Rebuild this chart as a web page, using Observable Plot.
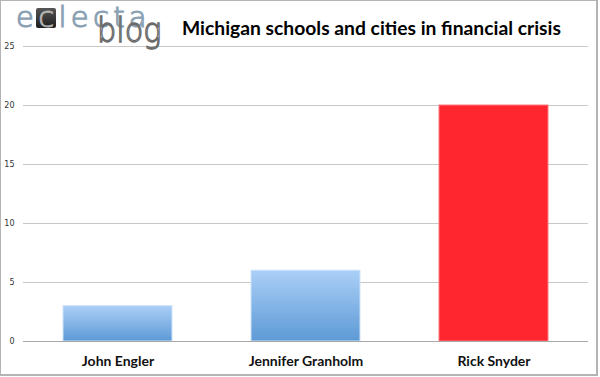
<!DOCTYPE html>
<html>
<head>
<meta charset="utf-8">
<script src="https://cdn.jsdelivr.net/npm/d3@7"></script>
<script src="https://cdn.jsdelivr.net/npm/@observablehq/plot@0.6"></script>
<style>
  html, body { margin: 0; padding: 0; background: #fff; }
  #wrap { position: relative; width: 600px; height: 377px; overflow: hidden; }
  #frame { position: absolute; left: 0; top: 0; width: 595px; height: 373px; border: 1px solid #b4b4b4; border-right-width: 2px; border-bottom-width: 2px; box-sizing: content-box; pointer-events: none; }
  #title { position: absolute; left: 182px; top: 16px; font-family: Lato, "Open Sans", sans-serif; font-weight: 700; font-size: 19.3px; color: #000; white-space: nowrap; }
  #logobox { position: absolute; left: 36px; top: 8px; width: 20px; height: 20px; background: linear-gradient(#555, #1e1e1e); border-radius: 2px; }
  #logo1 { position: absolute; left: 16px; top: 4px; font-family: "DejaVu Sans", sans-serif; font-weight: 200; font-size: 29px; line-height: 26px; color: #d4dfe8; -webkit-text-stroke: 1.2px #8aa1b4; letter-spacing: 4.3px; white-space: nowrap; }
  #logo1 .c2 { color: #e6e6e6; -webkit-text-stroke: 1px #aaa; }
  #logo2 { position: absolute; left: 97px; top: 18px; font-family: "DejaVu Sans", sans-serif; font-weight: 200; font-size: 33px; line-height: 26px; color: #fff; -webkit-text-stroke: 1.3px #6a6a6a; letter-spacing: 0px; transform-origin: left top; transform: scaleX(0.92); white-space: nowrap; }
</style>
</head>
<body>
<div id="wrap">
  <div id="chart"></div>
  <div id="logobox"></div>
  <div id="logo1">e<span class="c2">c</span>lecta</div>
  <div id="logo2">blog</div>
  <div id="title">Michigan schools and cities in financial crisis</div>
  <div id="frame"></div>
</div>
<script>
const governors = ["John Engler", "Jennifer Granholm", "Rick Snyder"];
const crisisCounts = [3, 6, 20];
const yTicks = [0, 5, 10, 15, 20, 25];

const data = governors.map((g, i) => ({governor: g, count: crisisCounts[i]}));

const defs = () => {
  const d = d3.create("svg:defs");
  const g = d.append("linearGradient").attr("id", "blueGrad")
    .attr("x1", 0).attr("y1", 0).attr("x2", 0).attr("y2", 1);
  g.append("stop").attr("offset", "0%").attr("stop-color", "#abcff7");
  g.append("stop").attr("offset", "100%").attr("stop-color", "#5d9ad6");
  return d.node();
};

const chart = Plot.plot({
  width: 600,
  height: 377,
  marginTop: 46,
  marginBottom: 36,
  marginLeft: 23,
  marginRight: 12,
  style: {background: "transparent", fontFamily: "'DejaVu Sans', sans-serif"},
  x: {domain: governors, paddingInner: 0.42, paddingOuter: 0.21, label: null},
  y: {domain: [0, 25], label: null},
  color: {type: "identity"},
  marks: [
    defs,
    Plot.ruleY(yTicks, {stroke: "#c8c8c8", strokeWidth: 1.2}),
    Plot.axisY(yTicks, {tickSize: 0, tickPadding: 9, fontSize: 8, fill: "#333", label: null}),
    Plot.barY(data, {
      x: "governor", y: "count",
      fill: d => d.governor === "Rick Snyder" ? "#ff2630" : "url(#blueGrad)",
      stroke: d => d.governor === "Rick Snyder" ? "#ff7a80" : "#cfe3fa",
      strokeWidth: 1
    }),
    Plot.ruleY([0], {stroke: "#a8a8a8", strokeWidth: 1.2}),
    Plot.axisX({tickSize: 0, tickPadding: 15, fontSize: 14, fontWeight: "bold", fill: "#111", label: null,
      fontFamily: "Lato, 'Open Sans', sans-serif"})
  ]
});
document.getElementById("chart").appendChild(chart);
</script>
</body>
</html>
